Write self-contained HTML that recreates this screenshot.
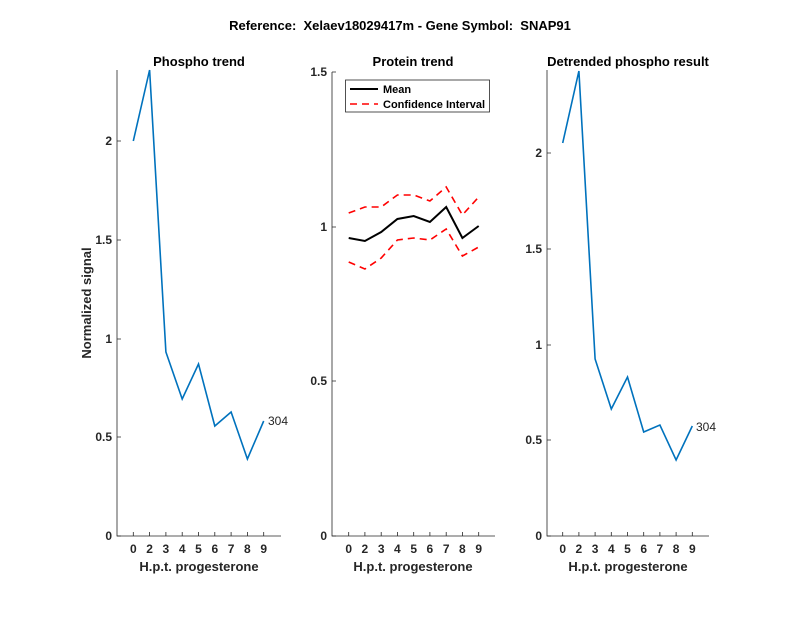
<!DOCTYPE html>
<html><head><style>body{margin:0;background:#fff}svg{display:block}text{font-family:"Liberation Sans",sans-serif}</style></head>
<body>
<svg width="800" height="618" xmlns="http://www.w3.org/2000/svg">
<g font-weight="bold" fill="#000" text-anchor="middle">
<text x="400" y="30" font-size="13">Reference:&#160; Xelaev18029417m - Gene Symbol:&#160; SNAP91</text>
<text x="199" y="66" font-size="13">Phospho trend</text>
<text x="413" y="66" font-size="13">Protein trend</text>
<text x="628" y="66" font-size="13">Detrended phospho result</text>
</g>
<g stroke="#262626" stroke-width="0.8" fill="none">
<path d="M117,70V536H281"/>
<path d="M332,72V536H495"/>
<path d="M547,70V536H709"/>
<path d="M117,536h4M117,437h4M117,339h4M117,240h4M117,141h4"/>
<path d="M332,536h4M332,381h4M332,227h4M332,72h4"/>
<path d="M547,536h4M547,440h4M547,345h4M547,249h4M547,153h4"/>
<path d="M133.3,536v-4M149.6,536v-4M165.9,536v-4M182.2,536v-4M198.5,536v-4M214.8,536v-4M231.1,536v-4M247.4,536v-4M263.7,536v-4"/>
<path d="M348.7,536v-4M364.9,536v-4M381.2,536v-4M397.4,536v-4M413.7,536v-4M429.9,536v-4M446.2,536v-4M462.4,536v-4M478.7,536v-4"/>
<path d="M562.7,536v-4M578.9,536v-4M595.1,536v-4M611.3,536v-4M627.5,536v-4M643.7,536v-4M659.9,536v-4M676.1,536v-4M692.3,536v-4"/>
</g>
<g font-size="12" font-weight="bold" fill="#262626">
<g text-anchor="end">
<text x="112" y="540">0</text><text x="112" y="441">0.5</text><text x="112" y="343">1</text><text x="112" y="244">1.5</text><text x="112" y="145">2</text>
<text x="327" y="540">0</text><text x="327" y="385">0.5</text><text x="327" y="231">1</text><text x="327" y="76">1.5</text>
<text x="542" y="540">0</text><text x="542" y="444">0.5</text><text x="542" y="349">1</text><text x="542" y="253">1.5</text><text x="542" y="157">2</text>
</g>
<g text-anchor="middle">
<text x="133.3" y="553">0</text><text x="149.6" y="553">2</text><text x="165.9" y="553">3</text><text x="182.2" y="553">4</text><text x="198.5" y="553">5</text><text x="214.8" y="553">6</text><text x="231.1" y="553">7</text><text x="247.4" y="553">8</text><text x="263.7" y="553">9</text>
<text x="348.7" y="553">0</text><text x="364.9" y="553">2</text><text x="381.2" y="553">3</text><text x="397.4" y="553">4</text><text x="413.7" y="553">5</text><text x="429.9" y="553">6</text><text x="446.2" y="553">7</text><text x="462.4" y="553">8</text><text x="478.7" y="553">9</text>
<text x="562.7" y="553">0</text><text x="578.9" y="553">2</text><text x="595.1" y="553">3</text><text x="611.3" y="553">4</text><text x="627.5" y="553">5</text><text x="643.7" y="553">6</text><text x="659.9" y="553">7</text><text x="676.1" y="553">8</text><text x="692.3" y="553">9</text>
</g>
<g font-size="13" text-anchor="middle">
<text x="199" y="571">H.p.t. progesterone</text>
<text x="413" y="571">H.p.t. progesterone</text>
<text x="628" y="571">H.p.t. progesterone</text>
<text transform="translate(91,303) rotate(-90)">Normalized signal</text>
</g>
</g>
<g fill="none" stroke-width="1.6">
<polyline stroke="#0072BD" points="133.3,141 149.6,70 165.9,352 182.2,399 198.5,364 214.8,426 231.1,412 247.4,459 263.7,421"/>
<polyline stroke="#0072BD" points="562.7,143 578.9,71 595.1,359 611.3,409 627.5,377 643.7,432 659.9,425 676.1,460 692.3,426"/>
<polyline stroke="#f00" stroke-dasharray="7,5" points="348.7,213 364.9,207 381.2,207 397.4,195 413.7,195 429.9,201 446.2,187 462.4,215 478.7,197"/>
<polyline stroke="#f00" stroke-dasharray="7,5" points="348.7,262 364.9,269 381.2,258 397.4,240 413.7,238 429.9,240 446.2,229 462.4,256 478.7,247"/>
<polyline stroke="#000" stroke-width="2" points="348.7,238 364.9,241 381.2,232 397.4,219 413.7,216 429.9,222 446.2,207 462.4,238 478.7,226"/>
</g>
<g font-size="12" fill="#262626"><text x="268" y="425">304</text><text x="696" y="431">304</text></g>
<rect x="345.5" y="80" width="144" height="32" fill="#fff" stroke="#262626" stroke-width="0.8"/>
<path d="M350,89h28" stroke="#000" stroke-width="2"/>
<path d="M350,104h28" stroke="#f00" stroke-width="1.6" stroke-dasharray="7,5"/>
<g font-size="11" font-weight="bold" fill="#000"><text x="383" y="93">Mean</text><text x="383" y="108">Confidence Interval</text></g>
</svg>
</body></html>
